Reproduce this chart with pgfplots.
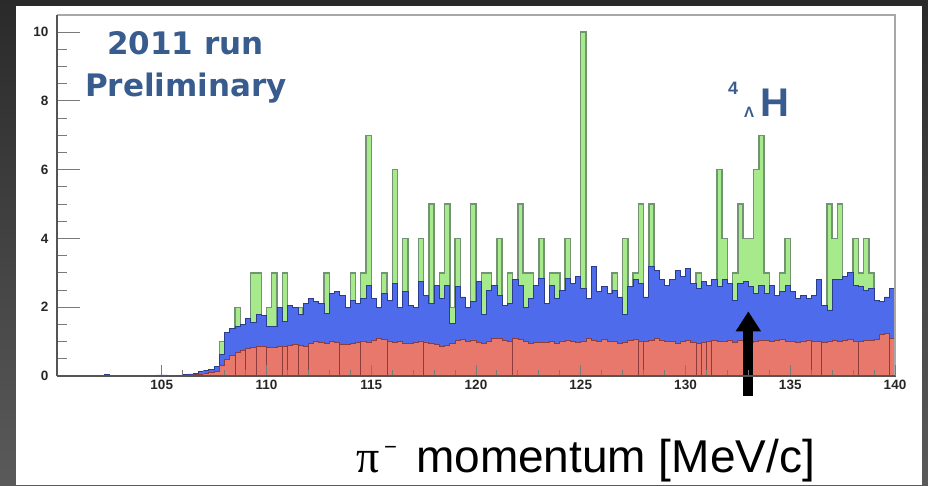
\documentclass[border=0pt]{standalone}
\usepackage{fontspec}
\setmainfont{Liberation Sans}
\newfontfamily\djv{DejaVu Sans}
\newfontfamily\lserif{Liberation Serif}
\usepackage{pgfplots}
\usepackage{pgfplotstable}
\pgfplotsset{compat=1.18}
\usetikzlibrary{arrows.meta}

\definecolor{bgtop}{HTML}{2A2A2A}
\definecolor{bgbot}{HTML}{5A5A5A}
\definecolor{grnfill}{HTML}{A6EA8C}
\definecolor{grnline}{HTML}{729472}
\definecolor{bluefill}{HTML}{4D6BEA}
\definecolor{blueline}{HTML}{2C3C8C}
\definecolor{redfill}{HTML}{E8776C}
\definecolor{redline}{HTML}{8C3C3A}
\definecolor{titleblue}{HTML}{395C8F}
\definecolor{framegray}{HTML}{A8A8A8}
\definecolor{axisgray}{HTML}{555555}
\definecolor{tickgray}{HTML}{7A7A7A}

% bin left edge, red component, red+blue total, data (green)
\pgfplotstableread{
x      red   tot   grn
100.00 0.00  0.00  0
102.25 0.02  0.04  0
102.50 0.00  0.00  0
104.75 0.02  0.03  0
105.25 0.00  0.00  0
106.00 0.02  0.04  0
106.25 0.03  0.06  0
106.50 0.04  0.08  0
106.75 0.06  0.12  0
107.00 0.08  0.16  0
107.25 0.10  0.20  0
107.50 0.14  0.28  0
107.75 0.30  0.62  1
108.00 0.48  1.26  0
108.25 0.60  1.39  0
108.50 0.68  1.43  2
108.75 0.75  1.51  0
109.00 0.80  1.68  0
109.25 0.83  1.55  3
109.50 0.85  1.80  3
109.75 0.86  1.77  0
110.00 0.84  1.43  2
110.25 0.83  1.45  3
110.50 0.87  2.00  0
110.75 0.85  1.58  3
111.00 0.90  2.06  0
111.25 0.92  2.00  0
111.50 0.90  1.80  2
111.75 0.86  2.10  0
112.00 0.95  2.26  0
112.25 1.00  2.16  0
112.50 0.97  2.10  0
112.75 0.95  1.82  3
113.00 1.00  2.40  0
113.25 0.97  2.45  0
113.50 0.93  2.35  0
113.75 0.92  2.00  0
114.00 0.95  2.20  3
114.25 0.98  2.10  0
114.50 1.02  2.25  3
114.75 0.99  2.64  7
115.00 1.05  2.25  0
115.25 1.08  2.00  0
115.50 1.06  2.40  3
115.75 1.02  2.20  0
116.00 0.98  2.70  6
116.25 1.00  2.00  0
116.50 0.96  2.45  4
116.75 0.94  2.06  0
117.00 0.98  2.00  0
117.25 1.02  2.74  4
117.50 0.99  2.35  0
117.75 0.96  2.10  5
118.00 0.92  2.64  0
118.25 0.86  2.25  3
118.50 0.90  2.64  5
118.75 0.95  1.53  2
119.00 1.04  2.60  4
119.25 1.06  2.30  0
119.50 1.02  2.00  0
119.75 1.05  2.16  5
120.00 0.98  2.74  0
120.25 0.94  1.80  3
120.50 1.02  2.50  3
120.75 1.10  2.64  0
121.00 1.08  2.35  4
121.25 1.04  2.06  0
121.50 1.00  2.10  3
121.75 1.10  2.80  0
122.00 1.06  2.64  5
122.25 1.00  2.00  3
122.50 0.95  2.25  3
122.75 0.98  2.64  0
123.00 0.97  2.84  4
123.25 0.99  2.10  0
123.50 1.00  2.64  3
123.75 0.96  2.25  3
124.00 1.02  2.50  0
124.25 1.05  2.84  4
124.50 1.00  2.70  0
124.75 0.98  2.90  0
125.00 1.02  2.55  10
125.25 1.08  2.25  0
125.50 1.04  3.18  0
125.75 1.00  2.45  0
126.00 1.06  2.60  0
126.25 1.02  2.40  0
126.50 1.00  2.50  3
126.75 0.95  2.30  0
127.00 0.97  1.80  4
127.25 1.03  2.60  0
127.50 1.07  2.80  3
127.75 1.02  2.70  5
128.00 1.00  2.30  0
128.25 1.04  3.18  5
128.50 1.10  3.08  0
128.75 1.05  2.80  0
129.00 1.01  2.64  0
129.25 1.00  2.80  0
129.50 0.96  3.08  0
129.75 1.00  2.90  0
130.00 1.04  3.13  0
130.25 0.97  2.70  0
130.50 0.95  2.55  3
130.75 0.98  2.74  0
131.00 1.02  2.64  0
131.25 1.04  2.80  0
131.50 1.00  2.60  6
131.75 1.02  2.80  4
132.00 1.05  2.70  0
132.25 0.98  2.20  3
132.50 1.03  2.70  5
132.75 1.00  2.74  4
133.00 0.97  2.60  4
133.25 1.02  2.40  6
133.50 1.05  2.64  7
133.75 1.03  2.40  3
134.00 1.00  2.64  0
134.25 1.04  2.35  0
134.50 1.06  2.45  3
134.75 1.02  2.64  4
135.00 1.00  2.45  0
135.25 0.98  2.25  0
135.50 1.02  2.35  0
135.75 1.05  2.25  0
136.00 1.02  2.35  0
136.25 1.00  2.80  0
136.50 0.97  2.06  0
136.75 1.02  1.92  5
137.00 1.04  2.80  4
137.25 1.00  2.80  5
137.50 1.03  2.90  0
137.75 1.06  3.00  0
138.00 1.02  2.64  4
138.25 1.00  2.60  3
138.50 1.04  2.50  4
138.75 1.03  2.55  3
139.00 1.07  2.20  0
139.25 1.20  2.16  0
139.50 1.24  2.30  0
139.75 1.10  2.55  0
140.00 1.10  2.55  0
}\hist

\begin{document}
\begin{tikzpicture}
% dark surround and white panel
\fill[top color=bgtop, bottom color=bgbot] (-57pt,-109pt) rectangle (871pt,376pt);
\fill[white] (-41pt,-109pt) rectangle (865pt,370pt);

\begin{axis}[
  at={(0pt,0pt)}, anchor=south west,
  scale only axis, width=838pt, height=361pt,
  xmin=100, xmax=140, ymin=0, ymax=10.5,
  clip=false,
  axis lines=left,
  axis line style={-, draw=axisgray, line width=1.3pt},
  axis on top,
  xtick={105,110,...,140}, ytick={0,2,...,10},
  minor x tick num=4, minor y tick num=3,
  tick align=inside,
  tick style={draw=tickgray, line width=1pt},
  major x tick style={/pgfplots/major tick length=11pt},
  minor x tick style={/pgfplots/minor tick length=6pt},
  major y tick style={/pgfplots/major tick length=23pt},
  minor y tick style={/pgfplots/minor tick length=10pt},
  /pgf/number format/assume math mode=true,
  ticklabel style={font=\fontsize{13.5}{15}\selectfont\bfseries, text=black!85},
  xticklabel style={yshift=-1pt},
  yticklabel style={xshift=-5pt},
]
\addplot[const plot, fill=grnfill, draw=grnline, line width=1.4pt]
  table[x=x, y=grn] {\hist} \closedcycle;
\addplot[const plot, fill=bluefill, draw=blueline, line width=0.8pt]
  table[x=x, y=tot] {\hist} \closedcycle;
\addplot[const plot, fill=redfill, draw=redline, line width=0.8pt]
  table[x=x, y=red] {\hist} \closedcycle;
% empty-bin outlines of the lower component
\addplot[ycomb, draw=redline, line width=0.7pt, no marks] coordinates {
  (108.5,0.68) (109.0,0.80) (109.5,0.85) (110.0,0.84) (110.75,0.85)
  (111.0,0.90) (111.5,0.90) (112.0,0.95) (113.5,0.93) (114.5,1.0)
  (115.75,1.02) (117.5,0.99) (121.75,1.10) (127.75,1.02) (128.0,1.0)
  (130.5,0.95) (130.75,0.98) (131.0,1.0) (131.25,1.04) (136.0,1.0)
  (136.5,0.97) (138.25,1.0) (139.75,1.1)};
% frame on top and right
\draw[framegray, line width=2pt] (rel axis cs:0,1) -- (rel axis cs:1,1) -- (rel axis cs:1,0);
% arrow marking the peak
\draw[black, line width=10pt, -{Triangle[width=24pt,length=20pt]}]
  (axis cs:133,-0.58) -- (axis cs:133,1.88);
\end{axis}

% annotations
\node[anchor=base west, inner sep=0, text=titleblue]
  at (50pt,321pt) {\djv\bfseries\fontsize{31}{31}\selectfont 2011 run};
\node[anchor=base west, inner sep=0, text=titleblue]
  at (28pt,279pt) {\djv\bfseries\fontsize{31}{31}\selectfont Preliminary};
\node[anchor=base west, inner sep=0, text=titleblue]
  at (671pt,281pt) {\bfseries\fontsize{18}{18}\selectfont 4};
\node[anchor=base west, inner sep=0, text=titleblue]
  at (687pt,258pt) {\bfseries\fontsize{15}{15}\selectfont Λ};
\node[anchor=base west, inner sep=0, text=titleblue]
  at (703pt,259pt) {\bfseries\fontsize{40}{40}\selectfont H};

% axis title
\node[anchor=base west, inner sep=0, text=black]
  at (299pt,-96pt) {\lserif\fontsize{46}{46}\selectfont π};
\node[anchor=base west, inner sep=0, text=black]
  at (327pt,-78pt) {\fontsize{22}{22}\selectfont −};
\node[anchor=base west, inner sep=0, text=black]
  at (359pt,-96pt) {\fontsize{46}{46}\selectfont momentum [MeV/c]};

\pgfresetboundingbox
\path[use as bounding box] (-57pt,-109pt) rectangle (871pt,376pt);
\end{tikzpicture}
\end{document}
